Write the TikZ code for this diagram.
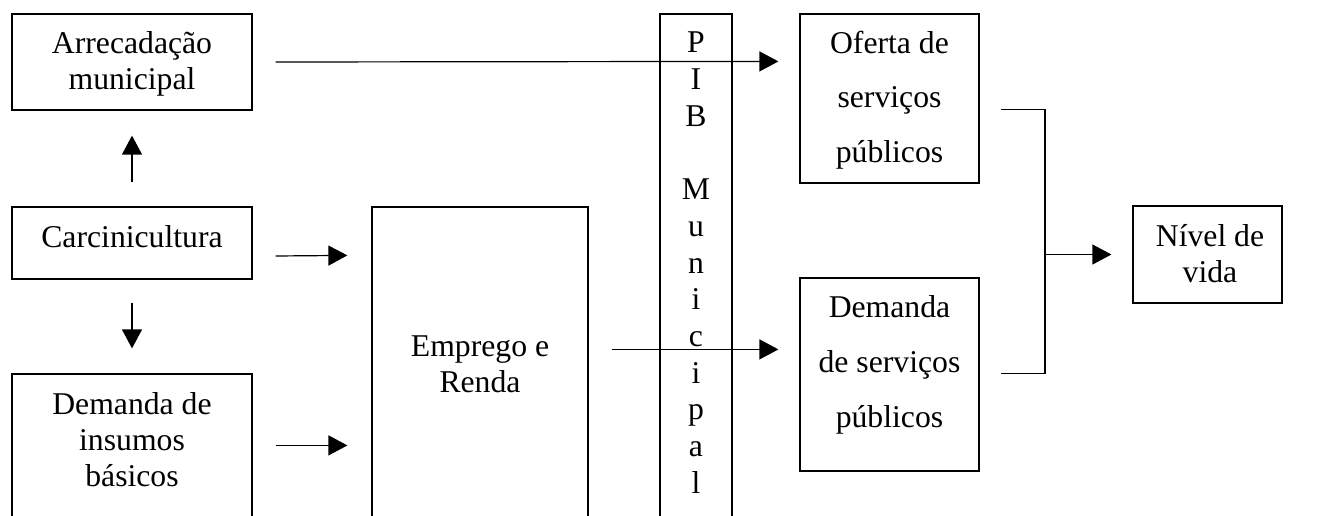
\documentclass[tikz,border=0pt]{standalone}
\usepackage{fontspec}
\setmainfont{Liberation Serif}
\usetikzlibrary{arrows.meta}
\tikzset{
  box/.style={draw, line width=1.2pt, rectangle, inner sep=0pt},
  txt/.style={align=center, inner sep=0pt, font=\fontsize{31.7}{36}\selectfont},
  arrow/.style={line width=1.2pt, -{Triangle[length=19pt,width=20pt]}},
  link/.style={line width=1.2pt}
}
\begin{document}
\begin{tikzpicture}[x=1pt,y=-1pt]
\useasboundingbox (0,0) rectangle (1325,516);
\clip (0,0) rectangle (1325,516);
% boxes
\node[box, minimum width=240pt, minimum height=96pt] (arr) at (132,62) {};
\node[box, minimum width=240pt, minimum height=72pt] (carc) at (132,243) {};
\node[box, minimum width=240pt, minimum height=166pt] (dem) at (132,457) {};
\node[box, minimum width=216pt, minimum height=333pt] (emp) at (480,373.5) {};
\node[box, minimum width=72pt, minimum height=526pt] (pib) at (696,277) {};
\node[box, minimum width=179pt, minimum height=169pt] (ofe) at (889.5,98.5) {};
\node[box, minimum width=179pt, minimum height=193pt] (dsv) at (889.5,374.5) {};
\node[box, minimum width=149pt, minimum height=97pt] (niv) at (1207.5,254.5) {};
% texts
\node[txt] (arr-t) at (132,64.3) {\strut Arrecadação\\\strut municipal};
\node[txt] (carc-t) at (132,240.5) {\strut Carcinicultura};
\node[txt] (dem-t) at (132,442.8) {\strut Demanda de\\\strut insumos\\\strut básicos};
\node[txt] (emp-t) at (480,366.8) {\strut Emprego e\\\strut Renda};
\node[txt, font=\fontsize{31.7}{36.67}\selectfont] (pib-t) at (696,265.67)
  {\strut P\\\strut I\\\strut B\\\strut\\\strut M\\\strut u\\\strut n\\\strut i\\\strut c\\\strut i\\\strut p\\\strut a\\\strut l};
\node[txt] (ofe-t) at (889.5,100.8) {\strut Oferta de\\[19pt]\strut serviços\\[19pt]\strut públicos};
\node[txt] (dsv-t) at (889.5,364.8) {\strut Demanda\\[19pt]\strut de serviços\\[19pt]\strut públicos};
\node[txt] (niv-t) at (1210,256.8) {\strut Nível de\\\strut vida};
% connectors
\draw[arrow] ([yshift=24pt]carc.north) -- ([yshift=-25pt]arr.south);
\draw[arrow] ([yshift=-23pt]carc.south) -- ([yshift=25pt]dem.north);
\draw[arrow] ([xshift=23pt,yshift=-13pt]carc.east) -- ([xshift=-24pt,yshift=-49pt]emp.north west);
\draw[arrow] ([xshift=23pt,yshift=-72pt]dem.north east) -- ([xshift=-24pt,yshift=-239pt]emp.north west);
\draw[arrow] ([xshift=23pt]arr.east) -- ([xshift=-21pt,yshift=-48pt]ofe.north west);
\draw[arrow] ([xshift=23pt,yshift=-143pt]emp.north east) -- ([xshift=-21pt,yshift=-72pt]dsv.north west);
\coordinate (jn) at (1045,254.5);
\draw[link] ([xshift=21pt,yshift=-96pt]ofe.north east) -| (jn) |- ([xshift=21pt,yshift=-96pt]dsv.north east);
\draw[arrow] (jn) -- ([xshift=-21pt]niv.west);
\end{tikzpicture}
\end{document}
